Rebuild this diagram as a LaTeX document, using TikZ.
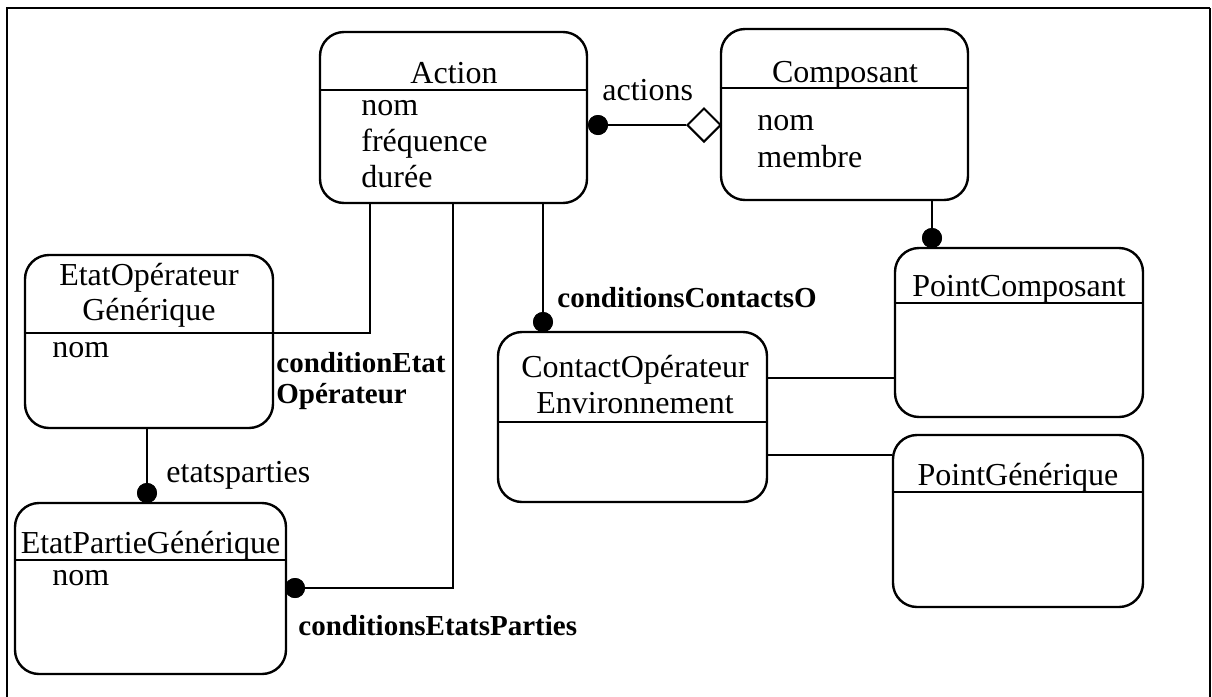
\documentclass[tikz,border=0pt]{standalone}
\usepackage{fontspec}
\setmainfont{Liberation Serif}
\usetikzlibrary{shapes.geometric}
\begin{document}
\begin{tikzpicture}[x=0.5pt,y=-0.5pt,
  cls/.style={draw, line width=1.2pt, rounded corners=12pt, inner sep=0pt},
  hdr/.style={line width=1pt},
  conn/.style={line width=1pt},
  frame/.style={line width=1.2pt},
  thinframe/.style={line width=0.6pt},
  dot/.style={circle, fill, inner sep=0pt, minimum size=10pt},
  txt/.style={inner sep=0pt, font=\fontsize{16}{19}\selectfont},
  lbl/.style={inner sep=0pt, font=\fontsize{14.5}{17}\selectfont\bfseries},
  agg/.style={diamond, draw, fill=white, line width=1pt, inner sep=0pt, minimum width=17pt, minimum height=17pt}
]
\useasboundingbox (0,0) rectangle (1212,697);
\draw[frame] (7,697) -- (7,8) -- (1210,8);
\draw[thinframe] (1210,8) -- (1210,697);

% class boxes
\node[cls, minimum width=133.5pt, minimum height=85.5pt] (action) at (453.5,117.5) {};
\node[cls, minimum width=123.5pt, minimum height=85.5pt] (comp) at (844.5,114.5) {};
\node[cls, minimum width=124pt, minimum height=86.5pt] (eog) at (149,341.5) {};
\node[cls, minimum width=135.5pt, minimum height=85.5pt] (epg) at (150.5,588.5) {};
\node[cls, minimum width=134.5pt, minimum height=85pt] (coe) at (632.5,417) {};
\node[cls, minimum width=124pt, minimum height=84.5pt] (pc) at (1019,332.5) {};
\node[cls, minimum width=125pt, minimum height=86pt] (pg) at (1018,521) {};

% header lines
\coordinate (hA) at (0,90);
\coordinate (hC) at (0,88);
\coordinate (hE) at (0,333);
\coordinate (hP) at (0,560);
\coordinate (hO) at (0,422);
\coordinate (hPC) at (0,303);
\coordinate (hPG) at (0,492);
\draw[hdr] (action.west |- hA) -- (action.east |- hA);
\draw[hdr] (comp.west |- hC) -- (comp.east |- hC);
\draw[hdr] (eog.west |- hE) -- (eog.east |- hE);
\draw[hdr] (epg.west |- hP) -- (epg.east |- hP);
\draw[hdr] (coe.west |- hO) -- (coe.east |- hO);
\draw[hdr] (pc.west |- hPC) -- (pc.east |- hPC);
\draw[hdr] (pg.west |- hPG) -- (pg.east |- hPG);

% texts
\node[txt, anchor=base] (tAct) at (454,83) {Action};
\node[txt, anchor=base west] (tA1) at (361,115) {nom};
\node[txt, anchor=base west] (tA2) at (361,151) {fréquence};
\node[txt, anchor=base west] (tA3) at (361,187) {durée};

\node[txt, anchor=base] (tComp) at (845,82) {Composant};
\node[txt, anchor=base west] (tC1) at (757,130) {nom};
\node[txt, anchor=base west] (tC2) at (757,167) {membre};

\node[txt, anchor=base] (tE1) at (149,285) {EtatOpérateur};
\node[txt, anchor=base] (tE2) at (149,320) {Générique};
\node[txt, anchor=base west] (tE3) at (52,357) {nom};

\node[txt, anchor=base] (tP1) at (150.5,553) {EtatPartieGénérique};
\node[txt, anchor=base west] (tP2) at (52,585) {nom};

\node[txt, anchor=base] (tO1) at (635,377) {ContactOpérateur};
\node[txt, anchor=base] (tO2) at (635,413) {Environnement};

\node[txt, anchor=base] (tPC) at (1019,296) {PointComposant};
\node[txt, anchor=base] (tPG) at (1018,485) {PointGénérique};

% labels
\node[txt, anchor=base west] (lAct) at (602,100) {actions};
\node[txt, anchor=base west] (lEtp) at (166,482) {etatsparties};
\node[lbl, anchor=base west] (lCE1) at (276,372) {conditionEtat};
\node[lbl, anchor=base west] (lCE2) at (276,403) {Opérateur};
\node[lbl, anchor=base west] (lCC) at (557,307) {conditionsContactsO};
\node[lbl, anchor=base west] (lCP) at (298,635) {conditionsEtatsParties};

% connector end markers
\node[dot] (dAct) at (598,125) {};
\node[dot] (dComp) at (932,238) {};
\node[dot] (dCoe) at (543,322) {};
\node[dot] (dEpgT) at (147,493) {};
\node[dot] (dEpgR) at (295,588) {};
\coordinate (k1) at (370,333);
\coordinate (k2) at (453,588);
\coordinate (l1) at (830,378);
\coordinate (l2) at (830,455);

% connectors
\node[agg] (diam) at (704,125) {};
\draw[conn] (dAct) -- (diam.west);
\draw[conn] (comp.south -| dComp) -- (dComp);
\draw[conn] (action.south -| k1) -- (k1) -- (eog.east |- k1);
\draw[conn] (action.south -| k2) -- (k2) -- (dEpgR);
\draw[conn] (action.south -| dCoe) -- (dCoe);
\draw[conn] (eog.south -| dEpgT) -- (dEpgT);
\draw[conn] (coe.east |- l1) -- (pc.west |- l1);
\draw[conn] (coe.east |- l2) -- (pg.west |- l2);

% redraw dots on top
\node[dot] at (dAct) {};
\node[dot] at (dComp) {};
\node[dot] at (dCoe) {};
\node[dot] at (dEpgT) {};
\node[dot] at (dEpgR) {};
\end{tikzpicture}
\end{document}
